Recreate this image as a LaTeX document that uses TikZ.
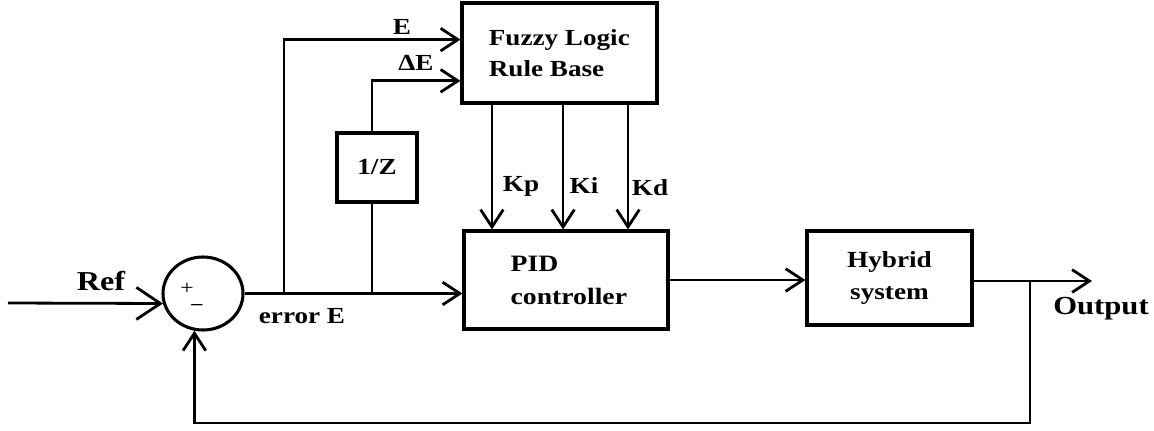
\documentclass[tikz,border=0pt]{standalone}
\usepackage{fontspec}
\setmainfont{Liberation Serif}[FakeStretch=1.18]
\usetikzlibrary{arrows.meta,shapes.geometric,calc}
\newcommand\lab{\fontsize{17.25}{23}\selectfont\bfseries}
\begin{document}
\begin{tikzpicture}[x=0.75pt,y=-0.75pt,
  blk/.style={draw, line width=2.3pt, inner sep=0pt, font=\lab},
  conn/.style={line width=2.1pt},
  arr/.style={conn, -{Straight Barb[length=13pt,width=17pt]}},
  bigarr/.style={conn, -{Straight Barb[length=18pt,width=24pt]}},
  lbl/.style={inner sep=0pt, font=\lab}]
\useasboundingbox (0,0) rectangle (1154,430);
\fill[white] (0,0) rectangle (1154,430);

% blocks
\node[blk, ellipse, minimum width=60pt, minimum height=54.75pt] (sum) at (203,293.5) {};
\node[blk, minimum width=146.25pt, minimum height=75pt,
      font={\fontsize{17.25}{23.5}\selectfont\bfseries}] (fuzzy) at (559.5,53)
      {\raisebox{-6pt}{\parbox{106pt}{Fuzzy Logic\\Rule Base}}};
\node[blk, minimum width=60pt, minimum height=51.75pt] (delay) at (377,167.5) {1/Z};
\node[blk, minimum width=153pt, minimum height=73.5pt,
      font={\fontsize{17.6}{24.75}\selectfont\bfseries}] (pid) at (566,280)
      {\hspace*{12pt}\raisebox{-2pt}{\parbox{95pt}{PID\\controller}}};
\node[blk, minimum width=123.75pt, minimum height=70.5pt, align=center,
      font={\fontsize{17.3}{24}\selectfont\bfseries}] (hyb) at (889.5,278)
      {Hybrid\\system};

% signs in summing junction
\node[inner sep=0pt, font=\fontsize{15}{15}\selectfont] (plus) at (187,289) {+};
\node[inner sep=0pt, font=\fontsize{14}{14}\selectfont\bfseries] (minus) at (197,307) {\textendash};

% coordinates
\coordinate (refin) at (8,303);
\coordinate (b1) at (284,293.5);
\coordinate (b2) at (372,293.5);
\coordinate (fin1) at ($(fuzzy.north west)!0.37!(fuzzy.south west)$);
\coordinate (fin2) at ($(fuzzy.north west)!0.77!(fuzzy.south west)$);
\coordinate (kp) at ($(fuzzy.south west)!0.159!(fuzzy.south east)$);
\coordinate (ki) at ($(fuzzy.south west)!0.518!(fuzzy.south east)$);
\coordinate (kd) at ($(fuzzy.south west)!0.846!(fuzzy.south east)$);
\coordinate (fb) at (1030,281);
\coordinate (fbc) at (1030,423);
\coordinate (out) at (1092,281);

% connectors
\draw[bigarr] (refin) -- (sum.194);
\draw[arr] (sum.east) -- (sum.east -| pid.west);
\draw[arr] (b1) |- (fin1);
\draw[conn] (b2) -- (b2 |- delay.south);
\draw[arr] (b2 |- delay.north) |- (fin2);
\draw[arr] (kp) -- (kp |- pid.north);
\draw[arr] (ki) -- (ki |- pid.north);
\draw[arr] (kd) -- (kd |- pid.north);
\draw[arr] (pid.east) -- (pid.east -| hyb.west);
\draw[arr] (hyb.east |- out) -- (out);
\draw[arr] (fb) -- (fbc) -| (sum.257);

% labels
\node[lbl, font={\fontsize{20.5}{20.5}\selectfont\bfseries}] (lref) at (101,281) {Ref};
\node[lbl] (le) at (402,27) {E};
\node[lbl] (lde) at (416,63) {ΔE};
\node[lbl] (lerr) at (302,316) {error E};
\node[lbl] (lkp) at (521,186) {Kp};
\node[lbl] (lki) at (584,186) {Ki};
\node[lbl] (lkd) at (650,188) {Kd};
\node[lbl, font={\fontsize{19.5}{19.5}\selectfont\bfseries}] (lout) at (1101,309) {Output};
\end{tikzpicture}
\end{document}
